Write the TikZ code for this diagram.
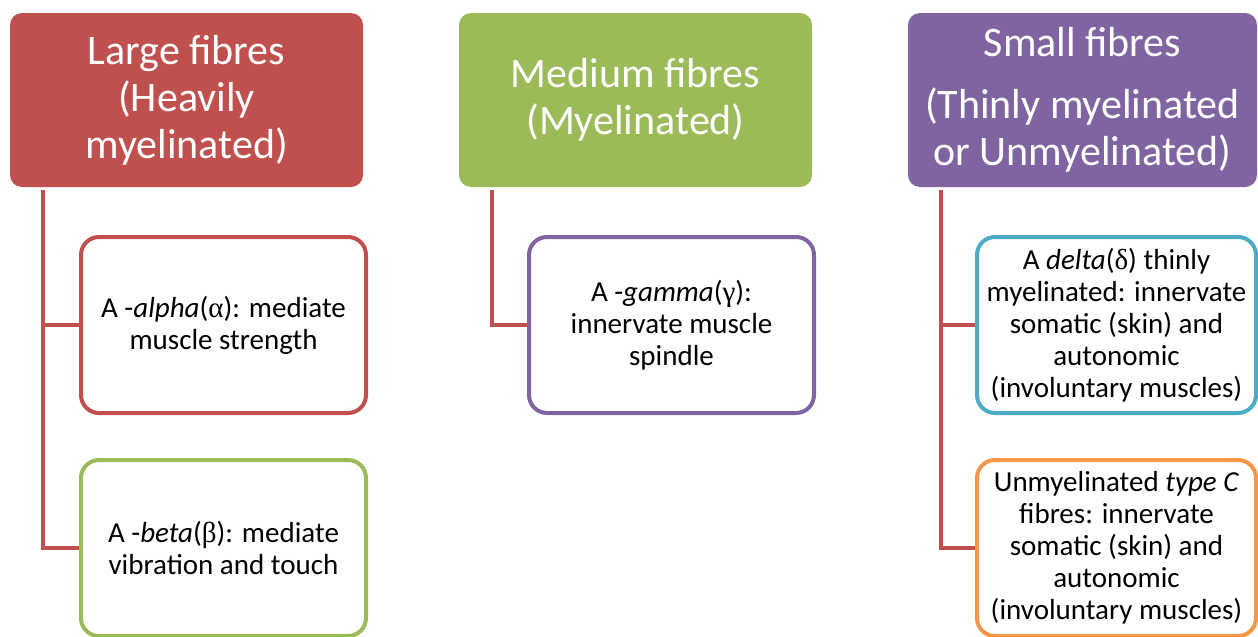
\documentclass[tikz,border=0pt]{standalone}
\usepackage{fontspec}
\setmainfont{Carlito}
\newfontfamily\grk{Liberation Serif}
\usetikzlibrary{positioning}
\definecolor{fred}{HTML}{C0504D}
\definecolor{fgreen}{HTML}{9BBB59}
\definecolor{fpurple}{HTML}{8064A2}
\definecolor{fcyan}{HTML}{4BACC6}
\definecolor{forange}{HTML}{F79646}
\newcommand{\gk}[1]{{\grk #1}}

\begin{document}
\begin{tikzpicture}[x=1pt,y=-1pt,
  head/.style={fill=#1,draw=none,rounded corners=12pt,text=white,align=center,
    minimum width=353pt,minimum height=174pt,inner sep=0pt,
    font=\fontsize{42}{47}\selectfont},
  leaf/.style={draw=#1,line width=4pt,fill=white,rounded corners=18pt,align=center,
    minimum width=285pt,minimum height=176pt,inner sep=0pt,
    font=\fontsize{29}{32}\selectfont},
  link/.style={draw=fred,line width=4.5pt}]
\useasboundingbox (0,0) rectangle (1258,637);
\node[head=fred] (large) at (186.5,100) {Large fibres\\(Heavily\\myelinated)};
\node[head=fgreen] (medium) at (635.5,100) {Medium fibres\\(Myelinated)};
\node[head=fpurple,minimum width=349pt] (small) at (1082.5,100) {Small fibres\\[15pt](Thinly myelinated\\or Unmyelinated)};
\node[leaf=fred] (alpha) at (223.5,325) {A -\textit{alpha}(\gk{α}): mediate\\muscle strength};
\node[leaf=fgreen] (beta) at (223.5,548) {A -\textit{beta}(\gk{β}): mediate\\vibration and touch};
\node[leaf=fpurple] (gamma) at (671.5,325) {A -\textit{gamma}(\gk{γ}):\\innervate muscle\\spindle};
\node[leaf=fcyan,minimum width=279pt] (delta) at (1116.5,325) {A \textit{delta}(\gk{δ}) thinly\\myelinated: innervate\\somatic (skin) and\\autonomic\\(involuntary muscles)};
\node[leaf=forange,minimum width=279pt] (typec) at (1116.5,548) {Unmyelinated \textit{type C}\\fibres: innervate\\somatic (skin) and\\autonomic\\(involuntary muscles)};
% connectors
\draw[link] ([xshift=33pt,yshift=-3pt]large.south west) |- (alpha.west);
\draw[link] ([xshift=33pt,yshift=-3pt]large.south west) |- (beta.west);
\draw[link] ([xshift=33pt,yshift=-3pt]medium.south west) |- (gamma.west);
\draw[link] ([xshift=33pt,yshift=-3pt]small.south west) |- (delta.west);
\draw[link] ([xshift=33pt,yshift=-3pt]small.south west) |- (typec.west);
\end{tikzpicture}
\end{document}
